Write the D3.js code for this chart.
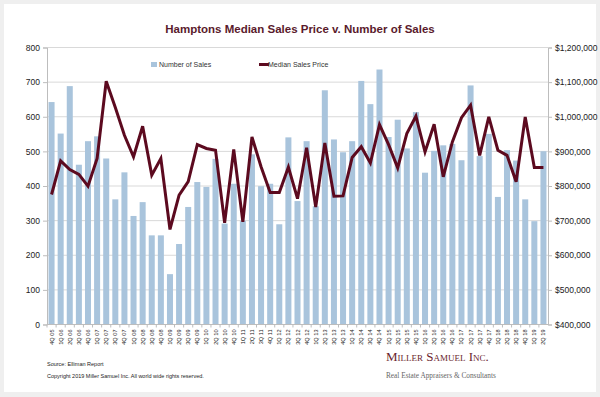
<!DOCTYPE html>
<html>
<head>
<meta charset="utf-8">
<script src="https://cdn.jsdelivr.net/npm/d3@7"></script>
<style>
  body { margin: 0; background: #efefef; }
  svg { display: block; font-family: Arial, "Liberation Sans", sans-serif; }
</style>
</head>
<body>
<div id="chart"></div>
<script>
const quarters = [
  "4Q 05", "1Q 06", "2Q 06", "3Q 06", "4Q 06", "1Q 07", "2Q 07", "3Q 07", "4Q 07",
  "1Q 08", "2Q 08", "3Q 08", "4Q 08", "1Q 09", "2Q 09", "3Q 09", "4Q 09",
  "1Q 10", "2Q 10", "3Q 10", "4Q 10", "1Q 11", "2Q 11", "3Q 11", "4Q 11",
  "1Q 12", "2Q 12", "3Q 12", "4Q 12", "1Q 13", "2Q 13", "3Q 13", "4Q 13",
  "1Q 14", "2Q 14", "3Q 14", "4Q 14", "1Q 15", "2Q 15", "3Q 15", "4Q 15",
  "1Q 16", "2Q 16", "3Q 16", "4Q 16", "1Q 17", "2Q 17", "3Q 17", "4Q 17",
  "1Q 18", "2Q 18", "3Q 18", "4Q 18", "1Q 19", "2Q 19"
];
const numberOfSales = [
  641, 550, 687, 460, 528, 542, 478, 360, 438,
  312, 352, 256, 256, 144, 231, 338, 410,
  396, 477, 290, 405, 298, 490, 398, 405,
  288, 539, 355, 528, 340, 675, 533, 496,
  528, 702, 635, 735, 540, 590, 507, 612,
  437, 500, 516, 520, 473, 689, 485, 549,
  367, 502, 472, 360, 297, 499
];
const medianPrice = [
  774000, 871000, 846000, 832000, 798000, 878000, 1101000, 1025000, 945000,
  883000, 971000, 830000, 878000, 673000, 772000, 811000, 918000,
  907000, 902000, 692000, 904000, 695000, 940000, 854000, 780000,
  780000, 853000, 762000, 909000, 738000, 923000, 769000, 770000,
  881000, 912000, 865000, 976000, 918000, 851000, 950000, 1000000,
  897000, 977000, 825000, 926000, 996000, 1032000, 887000, 998000,
  902000, 887000, 811000, 998000, 852000, 852000
];
const salesTicks = [0, 100, 200, 300, 400, 500, 600, 700, 800];
const priceTicks = [400000, 500000, 600000, 700000, 800000, 900000, 1000000, 1100000, 1200000];

const width = 600;
const height = 397;
const margin = { top: 47, right: 52, bottom: 72, left: 47 };

const svg = d3.select('#chart')
  .append('svg')
    .attr('width', width)
    .attr('height', height);

// white card on grey page
svg.append('rect')
  .attr('x', 4).attr('y', 4)
  .attr('width', width - 8).attr('height', height - 9)
  .attr('fill', '#fff');

const x = d3.scaleBand()
  .domain(quarters)
  .range([margin.left, width - margin.right])
  .paddingInner(0.34)
  .paddingOuter(0.17);

const ySales = d3.scaleLinear()
  .domain([0, 800])
  .range([height - margin.bottom - 1, margin.top]);

const yPrice = d3.scaleLinear()
  .domain([400000, 1200000])
  .range(ySales.range());

// gridlines
svg.append('g')
  .selectAll('line')
  .data(salesTicks.slice(1))
  .join('line')
    .attr('x1', margin.left)
    .attr('x2', width - margin.right)
    .attr('y1', d => ySales(d) + 0.5)
    .attr('y2', d => ySales(d) + 0.5)
    .attr('stroke', '#d9d9d9');

// bars
svg.append('g')
  .selectAll('rect')
  .data(numberOfSales)
  .join('rect')
    .attr('x', (d, i) => x(quarters[i]))
    .attr('y', d => ySales(d))
    .attr('width', x.bandwidth())
    .attr('height', d => ySales(0) - ySales(d))
    .attr('fill', '#a9c4dc');

// line
const line = d3.line()
  .x((d, i) => x(quarters[i]) + x.bandwidth() / 2)
  .y(d => yPrice(d));

svg.append('path')
  .datum(medianPrice)
  .attr('d', line)
  .attr('fill', 'none')
  .attr('stroke', '#5c0a1f')
  .attr('stroke-width', 3)
  .attr('stroke-linejoin', 'miter');

// axes
const leftAxis = d3.axisLeft(ySales).tickValues(salesTicks).tickSize(4).tickPadding(3);
const rightAxis = d3.axisRight(yPrice).tickValues(priceTicks).tickSize(4).tickPadding(3)
  .tickFormat(d => '$' + d3.format(',')(d));

function styleAxis(g) {
  g.select('.domain').attr('stroke', '#bdbdbd');
  g.selectAll('.tick line').attr('stroke', '#bdbdbd');
  g.selectAll('.tick text').attr('fill', '#222').attr('font-size', 8.5);
}

svg.append('g')
  .attr('transform', `translate(${margin.left},0.5)`)
  .call(leftAxis)
  .call(styleAxis);

svg.append('g')
  .attr('transform', `translate(${width - margin.right},0.5)`)
  .call(rightAxis)
  .call(styleAxis);

// bottom axis
const bottom = svg.append('g')
  .attr('transform', `translate(0,${ySales(0) + 0.5})`);
bottom.append('line')
  .attr('x1', margin.left).attr('x2', width - margin.right)
  .attr('stroke', '#bdbdbd');
bottom.selectAll('.qtick')
  .data(quarters)
  .join('line')
    .attr('class', 'qtick')
    .attr('x1', d => x(d) - x.step() * x.paddingInner() / 2)
    .attr('x2', d => x(d) - x.step() * x.paddingInner() / 2)
    .attr('y2', 3)
    .attr('stroke', '#bdbdbd');
bottom.selectAll('text')
  .data(quarters)
  .join('text')
    .attr('transform', d => `translate(${x(d) + x.bandwidth() / 2 + 2},5) rotate(-90)`)
    .attr('text-anchor', 'end')
    .attr('font-size', 5.6)
    .attr('fill', '#222')
    .text(d => d);

// title
svg.append('text')
  .attr('x', 300)
  .attr('y', 33)
  .attr('text-anchor', 'middle')
  .attr('font-size', 11.5)
  .attr('font-weight', 'bold')
  .attr('fill', '#5a1a2c')
  .text('Hamptons Median Sales Price v. Number of Sales');

// legend
const legend = svg.append('g').attr('font-size', 7).attr('fill', '#333');
legend.append('rect')
  .attr('x', 151).attr('y', 62).attr('width', 6).attr('height', 5)
  .attr('fill', '#a9c4dc');
legend.append('text')
  .attr('x', 159).attr('y', 67)
  .text('Number of Sales');
legend.append('line')
  .attr('x1', 259).attr('x2', 269).attr('y1', 64.5).attr('y2', 64.5)
  .attr('stroke', '#5c0a1f').attr('stroke-width', 3);
legend.append('text')
  .attr('x', 268).attr('y', 67)
  .text('Median Sales Price');

// footer
const footer = svg.append('g').attr('font-size', 5.5).attr('fill', '#222');
footer.append('text').attr('x', 47).attr('y', 366).text('Source: Elliman Report');
footer.append('text').attr('x', 47).attr('y', 378)
  .text('Copyright 2019 Miller Samuel Inc.  All world wide rights reserved.');

svg.append('text')
  .attr('x', 386).attr('y', 361)
  .attr('font-family', '"Liberation Serif", "DejaVu Serif", serif')
  .attr('font-size', 13)
  .attr('font-variant', 'small-caps')
  .attr('fill', '#6b1f2e')
  .text('Miller Samuel Inc.');

svg.append('text')
  .attr('x', 386).attr('y', 378)
  .attr('font-family', '"Liberation Serif", "DejaVu Serif", serif')
  .attr('font-size', 7.3)
  .attr('fill', '#666')
  .text('Real Estate Appraisers & Consultants');
</script>
</body>
</html>
